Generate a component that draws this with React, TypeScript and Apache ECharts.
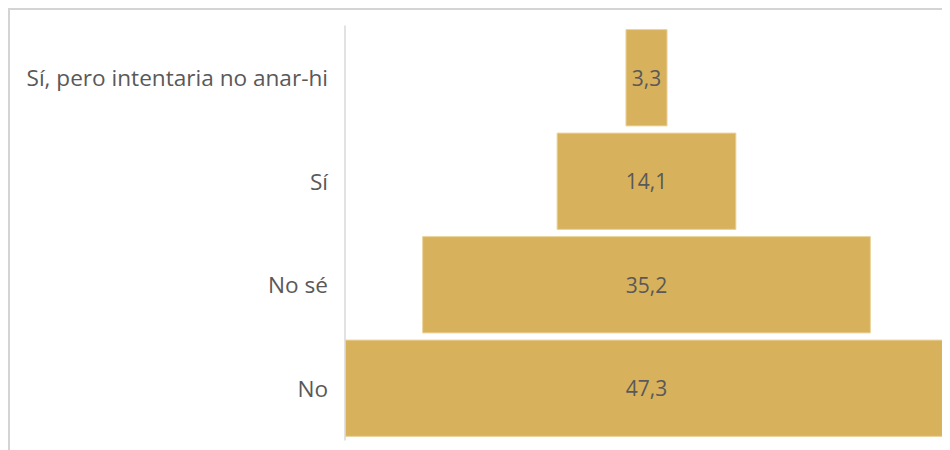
import React, { useEffect, useRef } from "react";
import * as echarts from "echarts";

const categories = ["Sí, pero intentaria no anar-hi", "Sí", "No sé", "No"];
const values = [3.3, 14.1, 35.2, 47.3];

export default function App() {
  const ref = useRef<HTMLDivElement>(null);
  useEffect(() => {
    if (!ref.current) return;
    const chart = echarts.init(ref.current, undefined, { renderer: "svg" });
    const maxV = Math.max(...values);
    const offsets = values.map((v) => (maxV - v) / 2);
    chart.setOption({
      animation: false,
      textStyle: { fontFamily: "Open Sans" },
      grid: { left: 335, right: 2, top: 16, bottom: 10, containLabel: false },
      xAxis: {
        type: "value",
        min: 0,
        max: maxV,
        show: false,
      },
      yAxis: {
        type: "category",
        inverse: true,
        data: categories,
        axisLine: { show: true, lineStyle: { color: "#d9d9d9", width: 1.5 } },
        axisTick: { show: false },
        axisLabel: { color: "#595959", fontSize: 22.6, margin: 17, fontFamily: "Open Sans" },
      },
      series: [
        {
          type: "bar",
          stack: "f",
          data: offsets,
          itemStyle: { color: "transparent" },
          silent: true,
          barCategoryGap: "6%",
        },
        {
          type: "bar",
          stack: "f",
          data: values,
          barCategoryGap: "6%",
          itemStyle: { color: "#D8B15C", borderColor: "#EBD39C", borderWidth: 1 },
          label: {
            show: true,
            position: "inside",
            color: "#595959",
            fontSize: 21,
            fontFamily: "Open Sans",
            formatter: (p: any) => String(p.value).replace(".", ","),
          },
        },
      ],
    });
    return () => chart.dispose();
  }, []);
  return (
    <div
      style={{
        width: 940,
        height: 440,
        borderTop: "2px solid #d4d4d4",
        borderLeft: "2px solid #d4d4d4",
        background: "#fff",
      }}
    >
      <div ref={ref} style={{ width: 940, height: 440 }} />
    </div>
  );
}
